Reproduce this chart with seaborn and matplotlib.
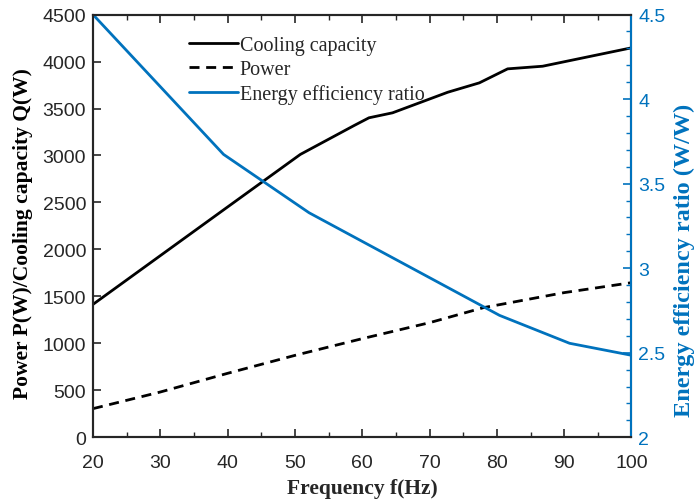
import matplotlib
matplotlib.use("Agg")
import matplotlib.pyplot as plt
from matplotlib.ticker import MultipleLocator
from matplotlib.lines import Line2D
import seaborn as sns
import pandas as pd

# Compressor performance versus operating frequency
freq_q = [20, 39.5, 50.8, 58.8, 61, 64.5, 72.7, 77.4, 81.6, 86.8, 100]
cooling_capacity = [1415, 2426, 3011, 3319, 3401, 3454, 3673, 3773, 3922, 3950, 4146]

freq_p = [20, 30, 40, 50, 60, 70, 78, 90, 100]
power = [305, 482, 681, 872, 1050, 1220, 1380, 1540, 1646]

freq_eer = [20, 39.4, 52.1, 80.4, 90.8, 100]
eer = [4.5, 3.673, 3.328, 2.721, 2.556, 2.485]

x_ticks = [20, 30, 40, 50, 60, 70, 80, 90, 100]
left_ticks = [0, 500, 1000, 1500, 2000, 2500, 3000, 3500, 4000, 4500]
right_ticks = [2, 2.5, 3, 3.5, 4, 4.5]
right_tick_labels = ["2", "2.5", "3", "3.5", "4", "4.5"]

BLUE = "#0072BD"

sns.set_theme(style="white")
plt.rcParams["font.family"] = ["Liberation Sans", "DejaVu Sans"]

fig = plt.figure(figsize=(6.97, 5.02), dpi=100)
ax = fig.add_axes([0.1334, 0.1269, 0.906 - 0.1334, 0.969 - 0.1269])
ax2 = ax.twinx()

df_q = pd.DataFrame({"f": freq_q, "v": cooling_capacity})
df_p = pd.DataFrame({"f": freq_p, "v": power})
df_e = pd.DataFrame({"f": freq_eer, "v": eer})

sns.lineplot(data=df_q, x="f", y="v", ax=ax, color="black", linewidth=2.0)
sns.lineplot(data=df_p, x="f", y="v", ax=ax, color="black", linewidth=2.0)
ax.lines[-1].set_dashes([3.6, 2.4])
sns.lineplot(data=df_e, x="f", y="v", ax=ax2, color=BLUE, linewidth=2.0)

ax.set_xlim(20, 100)
ax.set_ylim(0, 4500)
ax2.set_ylim(2, 4.5)
ax.set_xticks(x_ticks)
ax.set_yticks(left_ticks)
ax2.set_yticks(right_ticks)
ax.set_xticklabels([str(t) for t in x_ticks])
ax.set_yticklabels([str(t) for t in left_ticks])
ax2.set_yticklabels(right_tick_labels)
ax.xaxis.set_minor_locator(MultipleLocator(5))
ax2.yaxis.set_minor_locator(MultipleLocator(0.1))

ax.tick_params(axis="x", which="both", direction="in", top=True, bottom=True,
               labelsize=14, colors="#262626", pad=12)
ax.tick_params(axis="x", which="major", length=6, width=1.2)
ax.tick_params(axis="x", which="minor", length=3.5, width=1.0)
ax.tick_params(axis="y", which="major", direction="in", left=True, right=False,
               length=6, width=1.2, labelsize=14, colors="#262626", pad=5)
ax2.tick_params(axis="y", which="major", direction="in", right=True, left=False,
                length=6, width=1.2, labelsize=14, colors=BLUE, pad=5)
ax2.tick_params(axis="y", which="minor", direction="in", right=True, left=False,
                length=3.5, width=1.0, colors=BLUE)

for a in (ax, ax2):
    for s in a.spines.values():
        s.set_linewidth(1.5)
        s.set_color("#262626")
ax2.spines["right"].set_color(BLUE)
ax.grid(False)
ax2.grid(False)

serif = ["Liberation Serif", "DejaVu Serif"]
ax.set_xlabel("Frequency f(Hz)", family=serif, fontsize=15.5, fontweight="bold",
              color="#262626", labelpad=5)
ax.set_ylabel("Power P(W)/Cooling capacity Q(W)", family=serif, fontsize=15.5,
              fontweight="bold", color="black")
ax.yaxis.set_label_coords(-0.111, 0.485)
ax2.set_ylabel("Energy efficiency ratio (W/W)", family=serif, fontsize=17.5,
               fontweight="bold", color=BLUE)
ax2.yaxis.set_label_coords(1.079, 0.42)

handles = [
    Line2D([], [], color="black", linewidth=2.0),
    Line2D([], [], color="black", linewidth=2.0, dashes=[3.6, 2.4]),
    Line2D([], [], color=BLUE, linewidth=2.0),
]
labels = ["Cooling capacity", "Power", "Energy efficiency ratio"]
ax2.legend(handles, labels, loc="upper left", bbox_to_anchor=(0.164, 0.968),
           frameon=False, prop={"family": serif, "size": 14.5},
           handlelength=2.4, handletextpad=0.1, labelspacing=0.25,
           borderaxespad=0)

fig.savefig("out.png", dpi=100)
